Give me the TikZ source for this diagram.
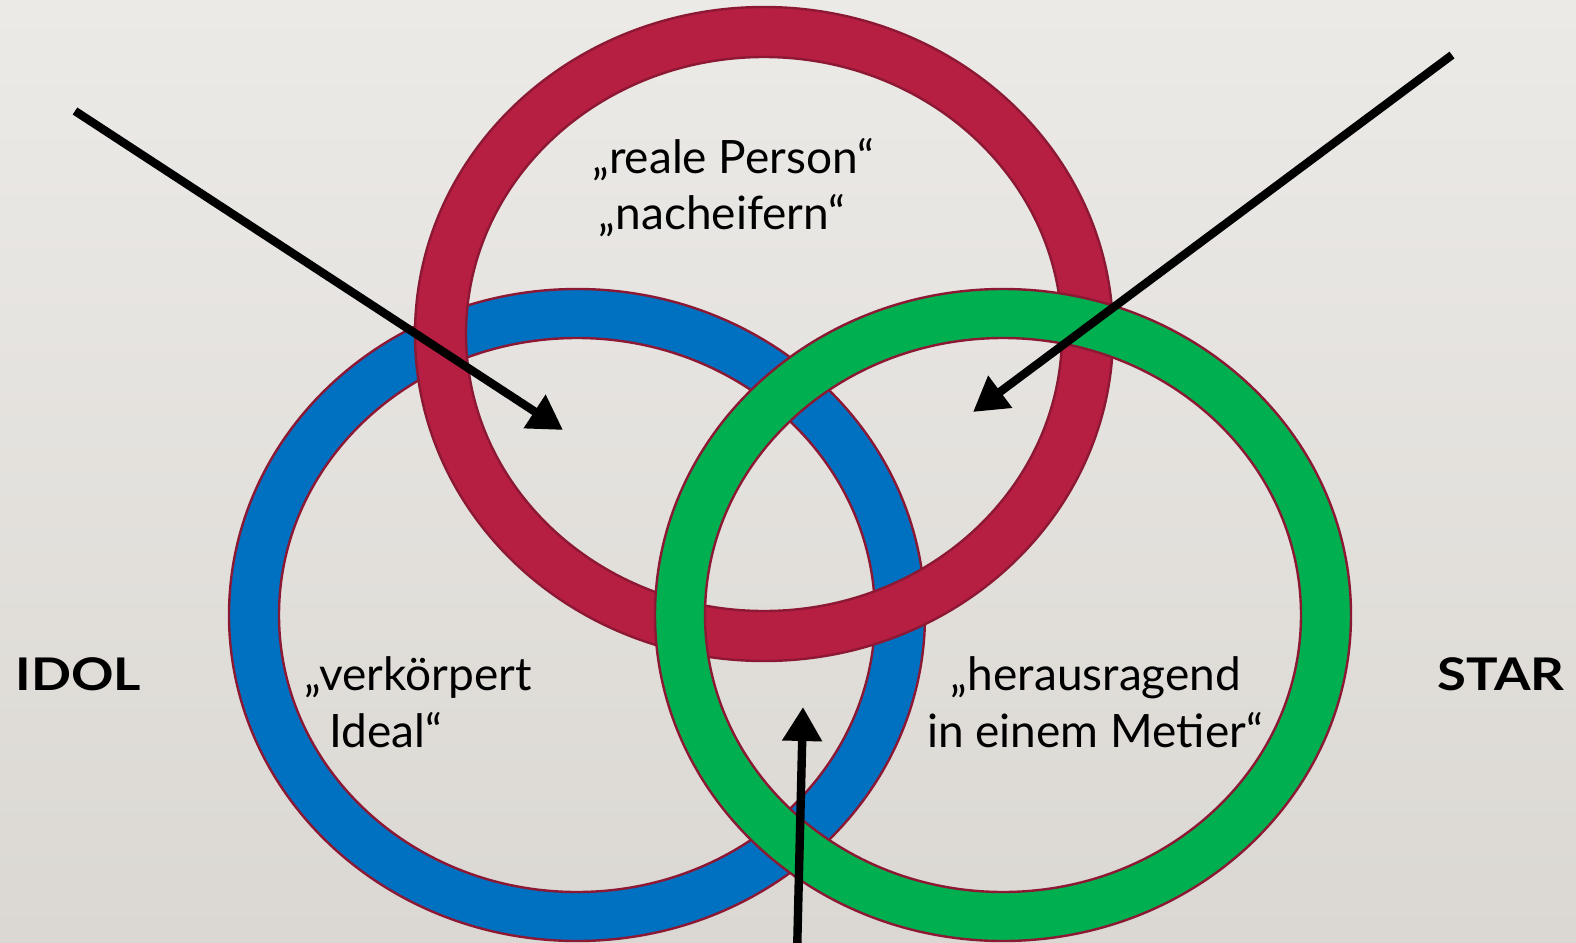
\documentclass[tikz,border=0pt]{standalone}
\usepackage{fontspec}
\usepackage{graphicx}
\setmainfont{Lato}
\usetikzlibrary{arrows.meta}
\definecolor{bgtop}{RGB}{236,234,231}
\definecolor{bgbot}{RGB}{219,216,211}
\definecolor{ringred}{RGB}{182,30,66}
\definecolor{ringblue}{RGB}{0,112,192}
\definecolor{ringgreen}{RGB}{0,176,80}
\definecolor{ringedge}{RGB}{140,24,52}
\tikzset{
  ring/.style={even odd rule, draw=ringedge, line width=1.2pt},
  lbl/.style={font=\fontsize{23}{27}\selectfont, inner sep=0pt, anchor=base},
  side/.style={font=\fontsize{22.5}{27}\selectfont\bfseries, inner sep=0pt, anchor=base},
  pointer/.style={line width=4.2pt, -{Triangle[length=17pt,width=19pt]}}
}
\begin{document}
\begin{tikzpicture}[x=0.5pt,y=-0.5pt]
\useasboundingbox (0,0) rectangle (1576,943);
\shade[top color=bgtop, bottom color=bgbot] (0,0) rectangle (1576,943);
% rings: blue bottom, red middle, green top
\fill[ring, fill=ringblue] (577,615) ellipse [x radius=348, y radius=326]
  (577,615) ellipse [x radius=298, y radius=277];
\fill[ring, fill=ringred] (764,334) ellipse [x radius=349, y radius=327]
  (764,334) ellipse [x radius=298, y radius=277];
\fill[ring, fill=ringgreen] (1003,615) ellipse [x radius=348, y radius=326]
  (1003,615) ellipse [x radius=298, y radius=277];
% texts
\node[lbl] (t1) at (733,173) {„reale Person“};
\node[lbl] (t2) at (722,229) {„nacheifern“};
\node[lbl, anchor=base west] (t3) at (304,690) {„verkörpert};
\node[lbl, anchor=base west] (t4) at (329,747) {Ideal“};
\node[lbl] (t5) at (1096,690) {„herausragend};
\node[lbl] (t6) at (1095,747) {in einem Metier“};
\node[side, anchor=base west] (idol) at (15,690) {\scalebox{1.17}[1]{IDOL}};
\node[side, anchor=base east] (star) at (1565,690) {\scalebox{1.17}[1]{STAR}};
% arrows
\coordinate (a1s) at (75,111);
\coordinate (a1e) at (563,430);
\coordinate (a2s) at (1452,55);
\coordinate (a2e) at (973,412);
\coordinate (a3s) at (797,955);
\coordinate (a3e) at (803,707);
\draw[pointer] (a1s) -- (a1e);
\draw[pointer] (a2s) -- (a2e);
\draw[pointer] (a3s) -- (a3e);
\end{tikzpicture}
\end{document}
